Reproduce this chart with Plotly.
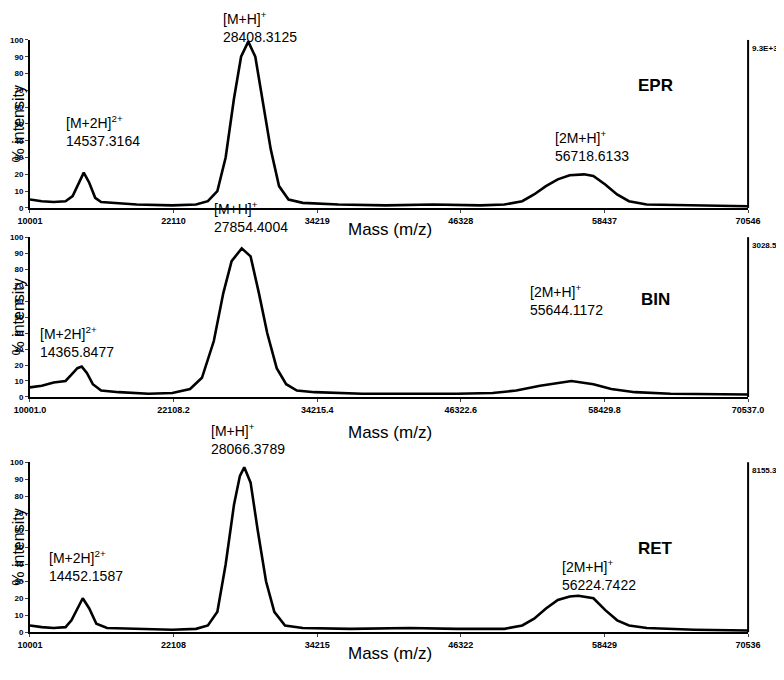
import plotly.graph_objects as go

# hand-read spectra (mass, % intensity)
epr_mass = [10001, 11000, 12000, 13000, 13600, 14000, 14537, 15000, 15500, 16000, 17000, 19000, 22000, 24000,
            25000, 25800, 26500, 27200, 27800, 28408, 29000, 29600, 30300, 31000, 31800, 33000, 36000, 40000,
            44000, 48000, 50000, 51500, 52500, 53500, 54500, 55500, 56718, 57500, 58500, 59500, 60500, 62000,
            65000, 70546]
epr_int = [5, 4, 3.5, 4, 7, 13, 21, 15, 6, 3.5, 3, 2, 1.5, 2,
           4, 10, 30, 65, 90, 99, 90, 65, 35, 13, 5, 3, 2, 1.5,
           2, 1.5, 2, 4, 8, 13, 17, 19.5, 20, 19, 14, 8, 4, 2,
           1.5, 1]

bin_mass = [10001, 11000, 12000, 13000, 13500, 14000, 14365, 14800, 15300, 16000, 17500, 20000, 22000, 23500,
            24500, 25500, 26300, 27000, 27854, 28600, 29300, 30000, 30800, 31600, 32500, 34000, 38000, 42000,
            46000, 49000, 51000, 53000, 55644, 57500, 59000, 61000, 64000, 70537]
bin_int = [6, 7, 9, 10, 14, 18, 19, 15, 8, 4, 3, 2, 2.5, 5,
           12, 35, 65, 85, 93, 88, 65, 40, 18, 8, 4, 3, 2, 2,
           2, 2.5, 4, 7, 10, 8, 5, 3, 2, 1.5]

ret_mass = [10001, 11000, 12000, 13000, 13500, 14000, 14452, 15000, 15600, 16500, 19000, 22000, 24000, 25000,
            25800, 26500, 27200, 27700, 28066, 28600, 29200, 29900, 30600, 31500, 33000, 37000, 42000, 46000,
            50000, 51500, 52500, 53500, 54500, 55500, 56224, 57500, 58500, 59500, 60500, 62000, 66000, 70536]
ret_int = [4, 3, 2.5, 3, 7, 14, 20, 14, 5, 2.5, 2, 1.5, 2, 4,
           12, 40, 75, 92, 97, 88, 60, 30, 12, 4, 2.5, 2, 2.5, 2,
           2, 4, 8, 14, 19, 21, 21.5, 20, 13, 7, 4, 2.5, 1.5, 1]

epr_ticks = [10001, 22110, 34219, 46328, 58437, 70546]
epr_labels = ["10001", "22110", "34219", "46328", "58437", "70546"]
bin_ticks = [10001.0, 22108.2, 34215.4, 46322.6, 58429.8, 70537.0]
bin_labels = ["10001.0", "22108.2", "34215.4", "46322.6", "58429.8", "70537.0"]
ret_ticks = [10001, 22108, 34215, 46322, 58429, 70536]
ret_labels = ["10001", "22108", "34215", "46322", "58429", "70536"]

names = ["EPR", "BIN", "RET"]
max_counts = ["9.3E+3", "3028.5", "8155.3"]
peaks = [
    [("[M+2H]<sup>2+</sup><br>14537.3164", 12900, 34), ("[M+H]<sup>+</sup><br>28408.3125", 26190, 104),
     ("[2M+H]<sup>+</sup><br>56718.6133", 54100, 25)],
    [("[M+2H]<sup>2+</sup><br>14365.8477", 10680, 22), ("[M+H]<sup>+</sup><br>27854.4004", 25350, 100),
     ("[2M+H]<sup>+</sup><br>55644.1172", 52000, 48)],
    [("[M+2H]<sup>2+</sup><br>14452.1587", 11430, 27), ("[M+H]<sup>+</sup><br>28066.3789", 25100, 102),
     ("[2M+H]<sup>+</sup><br>56224.7422", 54700, 22)],
]

series = [(epr_mass, epr_int, epr_ticks, epr_labels),
          (bin_mass, bin_int, bin_ticks, bin_labels),
          (ret_mass, ret_int, ret_ticks, ret_labels)]
domains = [[0.706, 0.953], [0.428, 0.663], [0.082, 0.332]]
mass_label_y = [0.691, 0.376, 0.034]
name_y = [73, 61, 49]

FONT = "Liberation Sans, Arial, sans-serif"
fig = go.Figure()
layout = dict(width=784, height=680, margin=dict(l=0, r=0, t=0, b=0, autoexpand=False),
              plot_bgcolor="white", paper_bgcolor="white", showlegend=False,
              font=dict(family=FONT, color="black"))
annotations = []
shapes = []
for i, (m, v, tv, tt) in enumerate(series):
    n = "" if i == 0 else str(i + 1)
    fig.add_trace(go.Scatter(x=m, y=v, mode="lines", line=dict(color="black", width=2.6),
                             xaxis="x" + n, yaxis="y" + n, hoverinfo="skip"))
    layout["xaxis" + n] = dict(domain=[0.028, 0.944], range=[10001, tv[-1]], anchor="y" + n,
                               tickvals=tv, ticktext=["<b>" + t + "</b>" for t in tt],
                               showline=True, linecolor="black", linewidth=2, automargin=False,
                               ticks="outside", ticklen=3, tickfont=dict(size=9),
                               showgrid=False, zeroline=False)
    layout["yaxis" + n] = dict(domain=domains[i], range=[0, 100], anchor="x" + n, automargin=False,
                               tickvals=list(range(0, 101, 10)),
                               ticktext=["<b>%d</b>" % t for t in range(0, 101, 10)],
                               showline=True, linecolor="black", linewidth=2,
                               ticks="outside", ticklen=3, tickfont=dict(size=8),
                               showgrid=False, zeroline=False)
    shapes.append(dict(type="line", xref="x" + n + " domain", yref="y" + n + " domain",
                       x0=1, x1=1, y0=0, y1=1, line=dict(color="black", width=2)))
    annotations.append(dict(text="% intensity", xref="paper", yref="y" + n + " domain",
                            x=0.0, y=0.5, xanchor="left", textangle=-90, showarrow=False,
                            font=dict(size=16)))
    annotations.append(dict(text="<b>" + max_counts[i] + "</b>", xref="x" + n + " domain",
                            yref="y" + n + " domain", x=1.003, y=0.99, xanchor="left", yanchor="top",
                            showarrow=False, font=dict(size=8)))
    annotations.append(dict(text="<b>" + names[i] + "</b>", xref="x" + n, yref="y" + n,
                            x=62700, y=name_y[i], showarrow=False, font=dict(size=17)))
    annotations.append(dict(text="Mass (m/z)", xref="paper", yref="paper", x=0.487, y=mass_label_y[i],
                            showarrow=False, font=dict(size=17)))
    for txt, px, py in peaks[i]:
        if py > 103:
            # label that sits above the top panel: pin it to the page top
            annotations.append(dict(text=txt, xref="x" + n, yref="paper", x=px, y=1.0,
                                    xanchor="left", yanchor="top", align="left", showarrow=False,
                                    borderpad=0, font=dict(size=14)))
            continue
        annotations.append(dict(text=txt, xref="x" + n, yref="y" + n + " domain", x=px, y=py / 100,
                                xanchor="left", yanchor="bottom", align="left", showarrow=False,
                                font=dict(size=14)))
layout["annotations"] = annotations
layout["shapes"] = shapes
fig.update_layout(**layout)
fig.write_html("out.html")
